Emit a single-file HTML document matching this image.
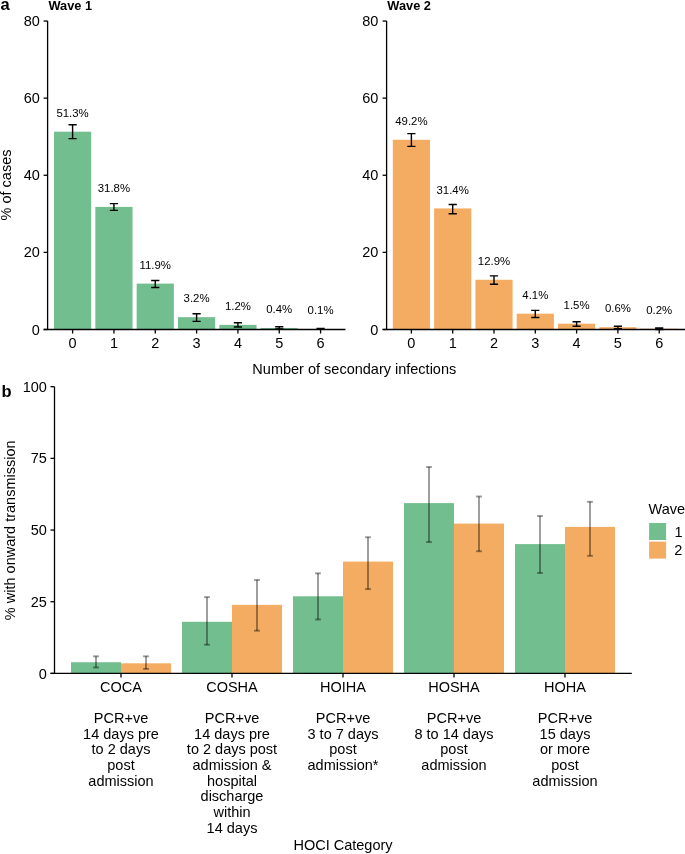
<!DOCTYPE html>
<html><head><meta charset="utf-8"><style>
html,body{margin:0;padding:0;background:#fff;width:685px;height:854px;overflow:hidden}
svg{display:block;will-change:transform}
text{font-family:"Liberation Sans", sans-serif;fill:#000}
</style></head><body>
<svg width="685" height="854" viewBox="0 0 685 854">
<rect width="685" height="854" fill="#fff"/>
<rect x="54.00" y="131.69" width="37.20" height="197.81" fill="#73BE8F"/>
<rect x="95.33" y="206.88" width="37.20" height="122.62" fill="#73BE8F"/>
<rect x="136.66" y="283.61" width="37.20" height="45.89" fill="#73BE8F"/>
<rect x="177.99" y="317.16" width="37.20" height="12.34" fill="#73BE8F"/>
<rect x="219.32" y="324.87" width="37.20" height="4.63" fill="#73BE8F"/>
<rect x="260.65" y="327.96" width="37.20" height="1.54" fill="#73BE8F"/>
<rect x="301.98" y="329.11" width="37.20" height="0.39" fill="#73BE8F"/>
<path d="M72.60 124.75V138.63M68.50 124.75H76.70M68.50 138.63H76.70" stroke="#000" stroke-width="1.4" fill="none"/>
<path d="M113.93 203.60V210.35M109.83 203.60H118.03M109.83 210.35H118.03" stroke="#000" stroke-width="1.4" fill="none"/>
<path d="M155.26 280.53V287.47M151.16 280.53H159.36M151.16 287.47H159.36" stroke="#000" stroke-width="1.4" fill="none"/>
<path d="M196.59 313.69V321.40M192.49 313.69H200.69M192.49 321.40H200.69" stroke="#000" stroke-width="1.4" fill="none"/>
<path d="M237.92 322.71V326.99M233.82 322.71H242.02M233.82 326.99H242.02" stroke="#000" stroke-width="1.4" fill="none"/>
<path d="M279.25 326.80V328.92M275.15 326.80H283.35M275.15 328.92H283.35" stroke="#000" stroke-width="1.4" fill="none"/>
<path d="M320.58 328.54V329.38M316.48 328.54H324.68M316.48 329.38H324.68" stroke="#000" stroke-width="1.4" fill="none"/>
<text x="72.60" y="116.89" font-size="11.4" text-anchor="middle">51.3%</text>
<text x="113.93" y="192.08" font-size="11.4" text-anchor="middle">31.8%</text>
<text x="155.26" y="268.81" font-size="11.4" text-anchor="middle">11.9%</text>
<text x="196.59" y="302.36" font-size="11.4" text-anchor="middle">3.2%</text>
<text x="237.92" y="310.07" font-size="11.4" text-anchor="middle">1.2%</text>
<text x="279.25" y="313.16" font-size="11.4" text-anchor="middle">0.4%</text>
<text x="320.58" y="314.31" font-size="11.4" text-anchor="middle">0.1%</text>
<path d="M47.60 21.02V329.50" stroke="#000" stroke-width="1.3"/>
<path d="M43.60 329.50H345.50" stroke="#000" stroke-width="1.3"/>
<path d="M43.60 329.50H47.60" stroke="#000" stroke-width="1.3"/>
<text x="39.90" y="334.60" font-size="14.5" text-anchor="end">0</text>
<path d="M43.60 252.38H47.60" stroke="#000" stroke-width="1.3"/>
<text x="39.90" y="257.48" font-size="14.5" text-anchor="end">20</text>
<path d="M43.60 175.26H47.60" stroke="#000" stroke-width="1.3"/>
<text x="39.90" y="180.36" font-size="14.5" text-anchor="end">40</text>
<path d="M43.60 98.14H47.60" stroke="#000" stroke-width="1.3"/>
<text x="39.90" y="103.24" font-size="14.5" text-anchor="end">60</text>
<path d="M43.60 21.02H47.60" stroke="#000" stroke-width="1.3"/>
<text x="39.90" y="26.12" font-size="14.5" text-anchor="end">80</text>
<path d="M72.60 329.50V333.50" stroke="#000" stroke-width="1.3"/>
<text x="72.60" y="348.3" font-size="14.5" text-anchor="middle">0</text>
<path d="M113.93 329.50V333.50" stroke="#000" stroke-width="1.3"/>
<text x="113.93" y="348.3" font-size="14.5" text-anchor="middle">1</text>
<path d="M155.26 329.50V333.50" stroke="#000" stroke-width="1.3"/>
<text x="155.26" y="348.3" font-size="14.5" text-anchor="middle">2</text>
<path d="M196.59 329.50V333.50" stroke="#000" stroke-width="1.3"/>
<text x="196.59" y="348.3" font-size="14.5" text-anchor="middle">3</text>
<path d="M237.92 329.50V333.50" stroke="#000" stroke-width="1.3"/>
<text x="237.92" y="348.3" font-size="14.5" text-anchor="middle">4</text>
<path d="M279.25 329.50V333.50" stroke="#000" stroke-width="1.3"/>
<text x="279.25" y="348.3" font-size="14.5" text-anchor="middle">5</text>
<path d="M320.58 329.50V333.50" stroke="#000" stroke-width="1.3"/>
<text x="320.58" y="348.3" font-size="14.5" text-anchor="middle">6</text>
<text x="48.50" y="10" font-size="12.8" font-weight="bold">Wave 1</text>
<rect x="392.81" y="139.78" width="37.17" height="189.72" fill="#F4AC62"/>
<rect x="434.12" y="208.42" width="37.17" height="121.08" fill="#F4AC62"/>
<rect x="475.42" y="279.76" width="37.17" height="49.74" fill="#F4AC62"/>
<rect x="516.71" y="313.69" width="37.17" height="15.81" fill="#F4AC62"/>
<rect x="558.01" y="323.72" width="37.17" height="5.78" fill="#F4AC62"/>
<rect x="599.31" y="327.19" width="37.17" height="2.31" fill="#F4AC62"/>
<rect x="640.61" y="328.73" width="37.17" height="0.77" fill="#F4AC62"/>
<path d="M411.40 133.62V146.34M407.30 133.62H415.50M407.30 146.34H415.50" stroke="#000" stroke-width="1.4" fill="none"/>
<path d="M452.70 204.57V213.82M448.60 204.57H456.80M448.60 213.82H456.80" stroke="#000" stroke-width="1.4" fill="none"/>
<path d="M494.00 275.90V284.19M489.90 275.90H498.10M489.90 284.19H498.10" stroke="#000" stroke-width="1.4" fill="none"/>
<path d="M535.30 310.41V317.55M531.20 310.41H539.40M531.20 317.55H539.40" stroke="#000" stroke-width="1.4" fill="none"/>
<path d="M576.60 321.79V326.18M572.50 321.79H580.70M572.50 326.18H580.70" stroke="#000" stroke-width="1.4" fill="none"/>
<path d="M617.90 326.18V328.73M613.80 326.18H622.00M613.80 328.73H622.00" stroke="#000" stroke-width="1.4" fill="none"/>
<path d="M659.20 327.96V329.50M655.10 327.96H663.30M655.10 329.50H663.30" stroke="#000" stroke-width="1.4" fill="none"/>
<text x="411.40" y="124.98" font-size="11.4" text-anchor="middle">49.2%</text>
<text x="452.70" y="193.62" font-size="11.4" text-anchor="middle">31.4%</text>
<text x="494.00" y="264.96" font-size="11.4" text-anchor="middle">12.9%</text>
<text x="535.30" y="298.89" font-size="11.4" text-anchor="middle">4.1%</text>
<text x="576.60" y="308.92" font-size="11.4" text-anchor="middle">1.5%</text>
<text x="617.90" y="312.39" font-size="11.4" text-anchor="middle">0.6%</text>
<text x="659.20" y="313.93" font-size="11.4" text-anchor="middle">0.2%</text>
<path d="M386.60 21.02V329.50" stroke="#000" stroke-width="1.3"/>
<path d="M382.60 329.50H685.50" stroke="#000" stroke-width="1.3"/>
<path d="M382.60 329.50H386.60" stroke="#000" stroke-width="1.3"/>
<text x="378.40" y="334.60" font-size="14.5" text-anchor="end">0</text>
<path d="M382.60 252.38H386.60" stroke="#000" stroke-width="1.3"/>
<text x="378.40" y="257.48" font-size="14.5" text-anchor="end">20</text>
<path d="M382.60 175.26H386.60" stroke="#000" stroke-width="1.3"/>
<text x="378.40" y="180.36" font-size="14.5" text-anchor="end">40</text>
<path d="M382.60 98.14H386.60" stroke="#000" stroke-width="1.3"/>
<text x="378.40" y="103.24" font-size="14.5" text-anchor="end">60</text>
<path d="M382.60 21.02H386.60" stroke="#000" stroke-width="1.3"/>
<text x="378.40" y="26.12" font-size="14.5" text-anchor="end">80</text>
<path d="M411.40 329.50V333.50" stroke="#000" stroke-width="1.3"/>
<text x="411.40" y="348.3" font-size="14.5" text-anchor="middle">0</text>
<path d="M452.70 329.50V333.50" stroke="#000" stroke-width="1.3"/>
<text x="452.70" y="348.3" font-size="14.5" text-anchor="middle">1</text>
<path d="M494.00 329.50V333.50" stroke="#000" stroke-width="1.3"/>
<text x="494.00" y="348.3" font-size="14.5" text-anchor="middle">2</text>
<path d="M535.30 329.50V333.50" stroke="#000" stroke-width="1.3"/>
<text x="535.30" y="348.3" font-size="14.5" text-anchor="middle">3</text>
<path d="M576.60 329.50V333.50" stroke="#000" stroke-width="1.3"/>
<text x="576.60" y="348.3" font-size="14.5" text-anchor="middle">4</text>
<path d="M617.90 329.50V333.50" stroke="#000" stroke-width="1.3"/>
<text x="617.90" y="348.3" font-size="14.5" text-anchor="middle">5</text>
<path d="M659.20 329.50V333.50" stroke="#000" stroke-width="1.3"/>
<text x="659.20" y="348.3" font-size="14.5" text-anchor="middle">6</text>
<text x="387.30" y="10" font-size="12.8" font-weight="bold">Wave 2</text>
<text x="0.5" y="10.2" font-size="16.5" font-weight="bold">a</text>
<text transform="translate(11 185) rotate(-90)" font-size="14.5" text-anchor="middle">% of cases</text>
<text x="354.3" y="374.1" font-size="14.5" text-anchor="middle">Number of secondary infections</text>
<rect x="71.00" y="662.22" width="50" height="11.18" fill="#73BE8F"/>
<rect x="121.00" y="663.31" width="50" height="10.09" fill="#F4AC62"/>
<rect x="182.00" y="621.79" width="50" height="51.61" fill="#73BE8F"/>
<rect x="232.00" y="604.88" width="50" height="68.52" fill="#F4AC62"/>
<rect x="293.00" y="596.28" width="50" height="77.12" fill="#73BE8F"/>
<rect x="343.00" y="561.59" width="50" height="111.81" fill="#F4AC62"/>
<rect x="404.00" y="503.10" width="50" height="170.30" fill="#73BE8F"/>
<rect x="454.00" y="523.60" width="50" height="149.80" fill="#F4AC62"/>
<rect x="515.00" y="544.10" width="50" height="129.30" fill="#73BE8F"/>
<rect x="565.00" y="526.90" width="50" height="146.50" fill="#F4AC62"/>
<g stroke="#000" stroke-opacity="0.4" stroke-width="1.9" fill="none"><path d="M96.00 656.31V667.49"/><path d="M93.10 656.31H98.90"/><path d="M93.10 667.49H98.90"/></g>
<g stroke="#000" stroke-opacity="0.4" stroke-width="1.9" fill="none"><path d="M146.00 656.31V668.90"/><path d="M143.10 656.31H148.90"/><path d="M143.10 668.90H148.90"/></g>
<g stroke="#000" stroke-opacity="0.4" stroke-width="1.9" fill="none"><path d="M207.00 597.14V644.73"/><path d="M204.10 597.14H209.90"/><path d="M204.10 644.73H209.90"/></g>
<g stroke="#000" stroke-opacity="0.4" stroke-width="1.9" fill="none"><path d="M257.00 579.94V630.68"/><path d="M254.10 579.94H259.90"/><path d="M254.10 630.68H259.90"/></g>
<g stroke="#000" stroke-opacity="0.4" stroke-width="1.9" fill="none"><path d="M318.00 573.34V619.50"/><path d="M315.10 573.34H320.90"/><path d="M315.10 619.50H320.90"/></g>
<g stroke="#000" stroke-opacity="0.4" stroke-width="1.9" fill="none"><path d="M368.00 537.22V589.11"/><path d="M365.10 537.22H370.90"/><path d="M365.10 589.11H370.90"/></g>
<g stroke="#000" stroke-opacity="0.4" stroke-width="1.9" fill="none"><path d="M429.00 466.98V542.09"/><path d="M426.10 466.98H431.90"/><path d="M426.10 542.09H431.90"/></g>
<g stroke="#000" stroke-opacity="0.4" stroke-width="1.9" fill="none"><path d="M479.00 496.51V551.27"/><path d="M476.10 496.51H481.90"/><path d="M476.10 551.27H481.90"/></g>
<g stroke="#000" stroke-opacity="0.4" stroke-width="1.9" fill="none"><path d="M540.00 516.00V573.05"/><path d="M537.10 516.00H542.90"/><path d="M537.10 573.05H542.90"/></g>
<g stroke="#000" stroke-opacity="0.4" stroke-width="1.9" fill="none"><path d="M590.00 501.81V555.85"/><path d="M587.10 501.81H592.90"/><path d="M587.10 555.85H592.90"/></g>
<path d="M54.5 386.70V673.40" stroke="#000" stroke-width="1.3"/>
<path d="M50.5 673.40H631.8" stroke="#000" stroke-width="1.3"/>
<path d="M50.5 673.40H54.5" stroke="#000" stroke-width="1.3"/>
<text x="46.9" y="678.50" font-size="14.5" text-anchor="end">0</text>
<path d="M50.5 601.73H54.5" stroke="#000" stroke-width="1.3"/>
<text x="46.9" y="606.83" font-size="14.5" text-anchor="end">25</text>
<path d="M50.5 530.05H54.5" stroke="#000" stroke-width="1.3"/>
<text x="46.9" y="535.15" font-size="14.5" text-anchor="end">50</text>
<path d="M50.5 458.38H54.5" stroke="#000" stroke-width="1.3"/>
<text x="46.9" y="463.48" font-size="14.5" text-anchor="end">75</text>
<path d="M50.5 386.70H54.5" stroke="#000" stroke-width="1.3"/>
<text x="46.9" y="391.80" font-size="14.5" text-anchor="end">100</text>
<path d="M121.00 673.40V677.40" stroke="#000" stroke-width="1.3"/>
<text x="121.00" y="692.00" font-size="14.5" text-anchor="middle">COCA</text>
<text x="121.00" y="723.24" font-size="14.5" text-anchor="middle">PCR+ve</text>
<text x="121.00" y="738.86" font-size="14.5" text-anchor="middle">14 days pre</text>
<text x="121.00" y="754.48" font-size="14.5" text-anchor="middle">to 2 days</text>
<text x="121.00" y="770.10" font-size="14.5" text-anchor="middle">post</text>
<text x="121.00" y="785.72" font-size="14.5" text-anchor="middle">admission</text>
<path d="M232.00 673.40V677.40" stroke="#000" stroke-width="1.3"/>
<text x="232.00" y="692.00" font-size="14.5" text-anchor="middle">COSHA</text>
<text x="232.00" y="723.24" font-size="14.5" text-anchor="middle">PCR+ve</text>
<text x="232.00" y="738.86" font-size="14.5" text-anchor="middle">14 days pre</text>
<text x="232.00" y="754.48" font-size="14.5" text-anchor="middle">to 2 days post</text>
<text x="232.00" y="770.10" font-size="14.5" text-anchor="middle">admission &amp;</text>
<text x="232.00" y="785.72" font-size="14.5" text-anchor="middle">hospital</text>
<text x="232.00" y="801.34" font-size="14.5" text-anchor="middle">discharge</text>
<text x="232.00" y="816.96" font-size="14.5" text-anchor="middle">within</text>
<text x="232.00" y="832.58" font-size="14.5" text-anchor="middle">14 days</text>
<path d="M343.00 673.40V677.40" stroke="#000" stroke-width="1.3"/>
<text x="343.00" y="692.00" font-size="14.5" text-anchor="middle">HOIHA</text>
<text x="343.00" y="723.24" font-size="14.5" text-anchor="middle">PCR+ve</text>
<text x="343.00" y="738.86" font-size="14.5" text-anchor="middle">3 to 7 days</text>
<text x="343.00" y="754.48" font-size="14.5" text-anchor="middle">post</text>
<text x="343.00" y="770.10" font-size="14.5" text-anchor="middle">admission*</text>
<path d="M454.00 673.40V677.40" stroke="#000" stroke-width="1.3"/>
<text x="454.00" y="692.00" font-size="14.5" text-anchor="middle">HOSHA</text>
<text x="454.00" y="723.24" font-size="14.5" text-anchor="middle">PCR+ve</text>
<text x="454.00" y="738.86" font-size="14.5" text-anchor="middle">8 to 14 days</text>
<text x="454.00" y="754.48" font-size="14.5" text-anchor="middle">post</text>
<text x="454.00" y="770.10" font-size="14.5" text-anchor="middle">admission</text>
<path d="M565.00 673.40V677.40" stroke="#000" stroke-width="1.3"/>
<text x="565.00" y="692.00" font-size="14.5" text-anchor="middle">HOHA</text>
<text x="565.00" y="723.24" font-size="14.5" text-anchor="middle">PCR+ve</text>
<text x="565.00" y="738.86" font-size="14.5" text-anchor="middle">15 days</text>
<text x="565.00" y="754.48" font-size="14.5" text-anchor="middle">or more</text>
<text x="565.00" y="770.10" font-size="14.5" text-anchor="middle">post</text>
<text x="565.00" y="785.72" font-size="14.5" text-anchor="middle">admission</text>
<text x="343" y="850.1" font-size="14.5" text-anchor="middle">HOCI Category</text>
<text transform="translate(15.2 530.3) rotate(-90)" font-size="14.5" text-anchor="middle">% with onward transmission</text>
<text x="1.5" y="396.6" font-size="16.5" font-weight="bold">b</text>
<text x="648.5" y="513.5" font-size="14.5">Wave</text>
<rect x="649.1" y="523" width="17" height="17" fill="#73BE8F"/>
<rect x="649.1" y="541.6" width="17" height="17" fill="#F4AC62"/>
<text x="674.5" y="536.9" font-size="14.5">1</text>
<text x="674.3" y="555.1" font-size="14.5">2</text>
</svg>
</body></html>
